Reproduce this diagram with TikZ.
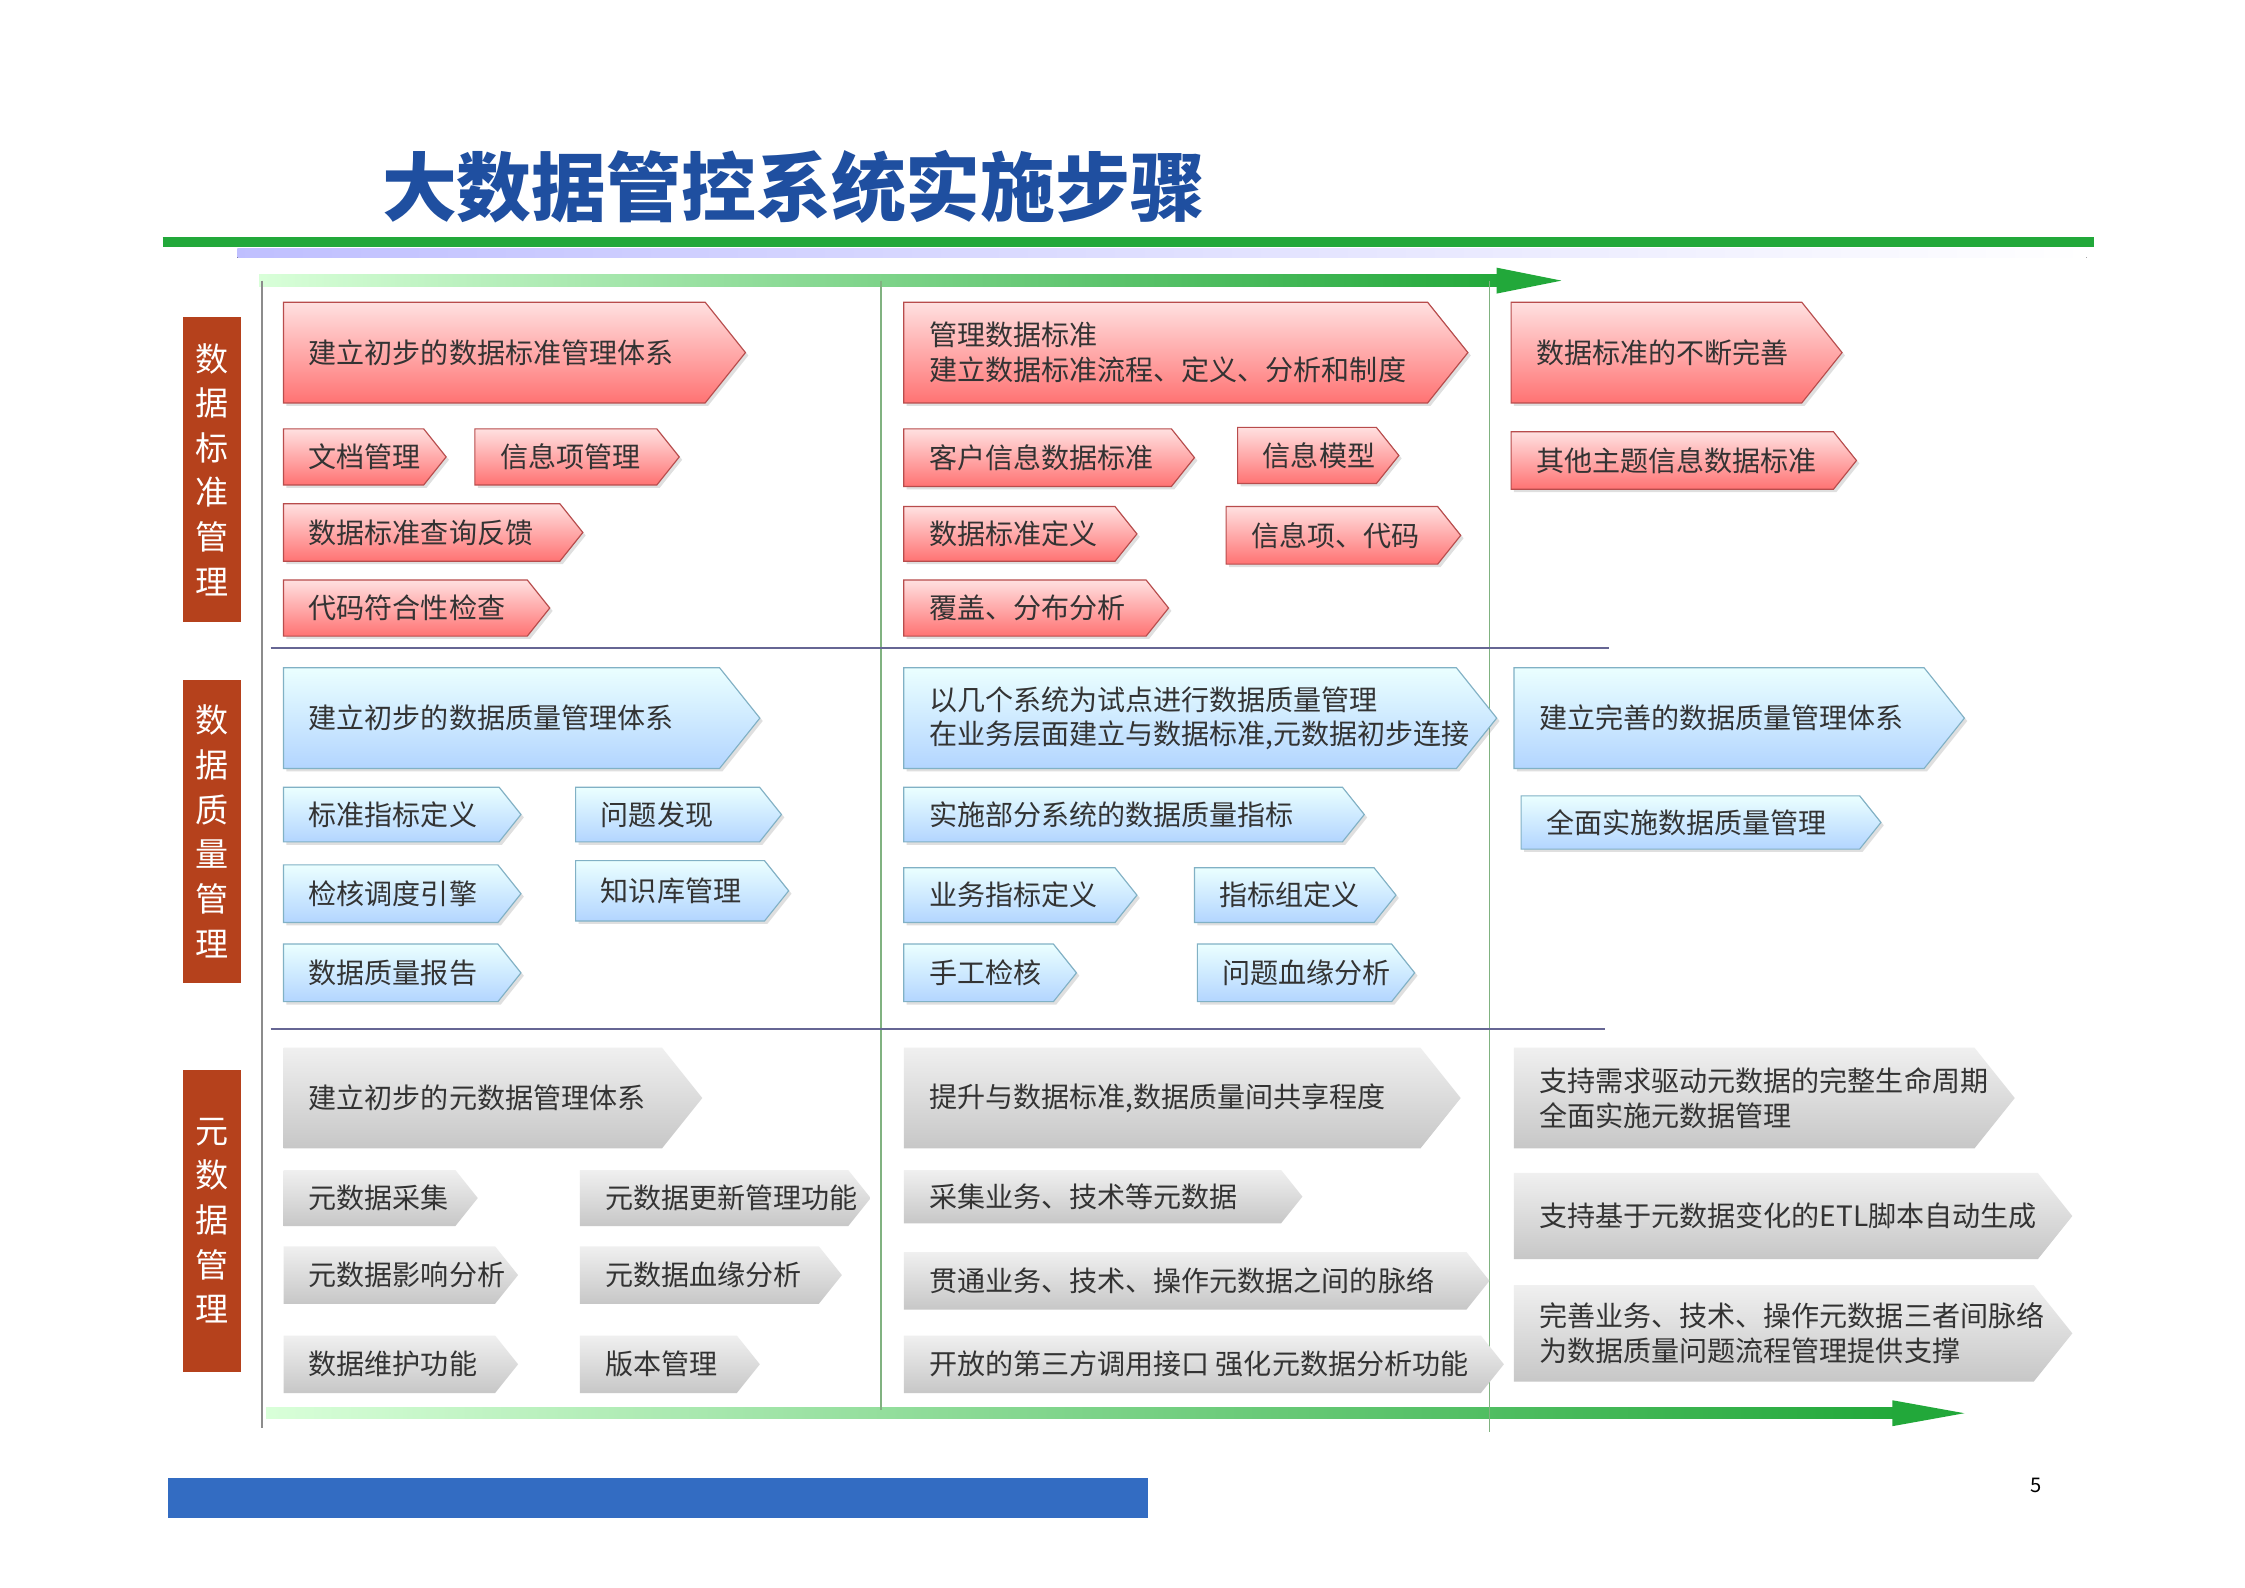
\documentclass[tikz,border=0pt]{standalone}
\usepackage{fontspec}
\setmainfont{Noto Sans CJK SC}
\usetikzlibrary{shadows}
\definecolor{ttl}{HTML}{1F4FA0}
\definecolor{brn}{HTML}{B5411C}
\definecolor{grn}{HTML}{22A83A}
\tikzset{
 pinkbox/.style={draw=red!60!black!70, line width=0.8pt, top color=red!12, bottom color=red!55!white, drop shadow={shadow xshift=2pt,shadow yshift=-2pt,opacity=0.25}},
 bluebox/.style={draw=cyan!60!black!60, line width=0.8pt, top color=cyan!8, bottom color=cyan!45!blue!30!white, drop shadow={shadow xshift=2pt,shadow yshift=-2pt,opacity=0.25}},
 graybox/.style={top color=black!6, bottom color=black!22},
 btxt/.style={anchor=west, align=left, font=\fontsize{19.5}{24}\selectfont, text=black!80},
 side/.style={fill=brn, text=white, align=center, font=\fontsize{23}{31}\selectfont, minimum width=40pt, inner sep=0pt},
 vline/.style={line width=1.2pt},
}
\newcommand\pa[7]{%
 \pgfmathsetmacro\dd{0.4*(#5-#3)}%
 \path[#1] (#2,#3) -- ({#4-\dd},#3) -- (#4,{(#3+#5)/2}) -- ({#4-\dd},#5) -- (#2,#5) -- cycle;
 \node[btxt] (#6) at ({#2+14},{(#3+#5)/2}) {#7};}
\begin{document}
\begin{tikzpicture}[x=1pt,y=-1pt]
\useasboundingbox[fill=white] (0,0) rectangle (1560,1103);
\node[anchor=west, font=\fontsize{52}{56}\selectfont\bfseries, text=ttl] (title) at (262,130) {大数据管控系统实施步骤};
\draw[grn, line width=7pt] (113,168) -- (1455,168);
\fill[left color=blue!25, right color=white] (165,173) rectangle (1450,179);
\fill[left color=green!15, right color=grn] (180,191) rectangle (1045,199);
\fill[grn] (1040,186) -- (1085,195) -- (1040,204) -- cycle;
\fill[left color=green!15, right color=grn] (185,978) rectangle (1320,986);
\fill[grn] (1315,973) -- (1365,982) -- (1315,991) -- cycle;
% lines
\draw[vline, black!45] (182,195) -- (182,992);
\draw[vline, green!40!black!50] (612,195) -- (612,980);
\draw[vline, green!40!black!50] (1035,195) -- (1035,995);
\draw[line width=1.5pt, blue!30!black!60] (188,450) -- (1118,450);
\draw[line width=1.5pt, blue!30!black!60] (188,715) -- (1115,715);
% side labels
\node[side, minimum height=212pt, anchor=north west] (s1) at (127,220) {数\\据\\标\\准\\管\\理};
\node[side, minimum height=211pt, anchor=north west] (s2) at (127,472) {数\\据\\质\\量\\管\\理};
\node[side, minimum height=210pt, anchor=north west] (s3) at (127,743) {元\\数\\据\\管\\理};
% pink
\pa{pinkbox}{197}{210}{518}{280}{p1}{建立初步的数据标准管理体系}
\pa{pinkbox}{628}{210}{1020}{280}{p2}{管理数据标准\\建立数据标准流程、定义、分析和制度}
\pa{pinkbox}{1050}{210}{1280}{280}{p3}{数据标准的不断完善}
\pa{pinkbox}{197}{298}{310}{337}{p4}{文档管理}
\pa{pinkbox}{330}{298}{472}{337}{p5}{信息项管理}
\pa{pinkbox}{628}{298}{830}{338}{p6}{客户信息数据标准}
\pa{pinkbox}{860}{297}{972}{336}{p7}{信息模型}
\pa{pinkbox}{1050}{300}{1290}{340}{p8}{其他主题信息数据标准}
\pa{pinkbox}{197}{350}{405}{390}{p9}{数据标准查询反馈}
\pa{pinkbox}{628}{352}{790}{390}{p10}{数据标准定义}
\pa{pinkbox}{852}{352}{1015}{392}{p11}{信息项、代码}
\pa{pinkbox}{197}{403}{382}{442}{p12}{代码符合性检查}
\pa{pinkbox}{628}{403}{812}{442}{p13}{覆盖、分布分析}
% blue
\pa{bluebox}{197}{464}{528}{534}{b1}{建立初步的数据质量管理体系}
\pa{bluebox}{628}{464}{1040}{534}{b2}{以几个系统为试点进行数据质量管理\\在业务层面建立与数据标准,元数据初步连接}
\pa{bluebox}{1052}{464}{1365}{534}{b3}{建立完善的数据质量管理体系}
\pa{bluebox}{197}{547}{362}{585}{b4}{标准指标定义}
\pa{bluebox}{400}{547}{543}{585}{b5}{问题发现}
\pa{bluebox}{628}{547}{948}{585}{b6}{实施部分系统的数据质量指标}
\pa{bluebox}{1057}{553}{1307}{590}{b7}{全面实施数据质量管理}
\pa{bluebox}{197}{601}{362}{641}{b8}{检核调度引擎}
\pa{bluebox}{400}{598}{548}{640}{b9}{知识库管理}
\pa{bluebox}{628}{603}{790}{641}{b10}{业务指标定义}
\pa{bluebox}{830}{603}{970}{641}{b11}{指标组定义}
\pa{bluebox}{197}{656}{362}{696}{b12}{数据质量报告}
\pa{bluebox}{628}{656}{748}{696}{b13}{手工检核}
\pa{bluebox}{832}{656}{983}{696}{b14}{问题血缘分析}
% gray
\pa{graybox}{197}{728}{488}{798}{g1}{建立初步的元数据管理体系}
\pa{graybox}{628}{728}{1015}{798}{g2}{提升与数据标准,数据质量间共享程度}
\pa{graybox}{1052}{728}{1400}{798}{g3}{支持需求驱动元数据的完整生命周期\\全面实施元数据管理}
\pa{graybox}{197}{813}{332}{852}{g4}{元数据采集}
\pa{graybox}{403}{813}{605}{852}{g5}{元数据更新管理功能}
\pa{graybox}{628}{813}{905}{850}{g6}{采集业务、技术等元数据}
\pa{graybox}{1052}{815}{1440}{875}{g7}{支持基于元数据变化的ETL脚本自动生成}
\pa{graybox}{197}{866}{360}{906}{g8}{元数据影响分析}
\pa{graybox}{403}{866}{585}{906}{g9}{元数据血缘分析}
\pa{graybox}{628}{870}{1035}{910}{g10}{贯通业务、技术、操作元数据之间的脉络}
\pa{graybox}{1052}{893}{1440}{960}{g11}{完善业务、技术、操作元数据三者间脉络\\为数据质量问题流程管理提供支撑}
\pa{graybox}{197}{928}{360}{968}{g12}{数据维护功能}
\pa{graybox}{403}{928}{528}{968}{g13}{版本管理}
\pa{graybox}{628}{928}{1045}{968}{g14}{开放的第三方调用接口 强化元数据分析功能}
% footer
\fill[blue!60!cyan!70!black!80] (117,1027) rectangle (798,1055);
\node[font=\fontsize{14}{16}\selectfont] (pg) at (1415,1032) {5};
\end{tikzpicture}
\end{document}
